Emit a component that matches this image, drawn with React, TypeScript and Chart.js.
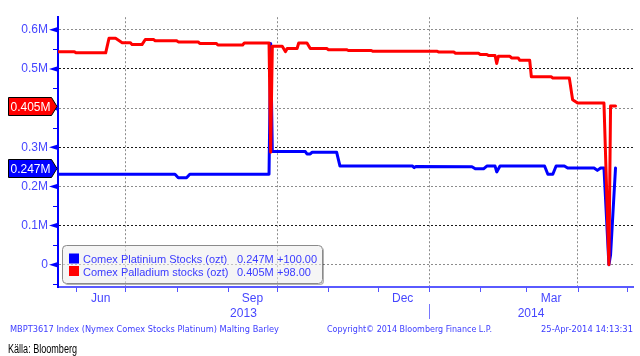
import React, { useEffect, useRef } from 'react';
import { Chart, registerables } from 'chart.js';
Chart.register(...registerables);

// ---------- data (values in millions of troy ounces) ----------
const platinumDates = [
  '2013-05-21', '2013-07-31', '2013-08-02', '2013-08-07', '2013-08-09', '2013-09-26', '2013-09-27',
  '2013-09-28', '2013-10-18', '2013-10-19', '2013-10-21', '2013-10-22', '2013-11-06', '2013-11-08',
  '2013-12-22', '2013-12-23', '2013-12-24', '2014-01-27', '2014-01-29', '2014-02-03', '2014-02-05',
  '2014-02-10', '2014-02-11', '2014-02-13', '2014-03-12', '2014-03-14', '2014-03-17', '2014-03-19',
  '2014-03-24', '2014-03-26', '2014-04-11', '2014-04-13', '2014-04-15', '2014-04-17', '2014-04-20',
  '2014-04-21', '2014-04-24',
];
const platinumValues = [
  0.231, 0.231, 0.222, 0.222, 0.231, 0.231, 0.565,
  0.289, 0.289, 0.283, 0.283, 0.287, 0.287, 0.252,
  0.252, 0.248, 0.251, 0.250, 0.245, 0.245, 0.252,
  0.252, 0.237, 0.252, 0.252, 0.231, 0.231, 0.252,
  0.252, 0.247, 0.247, 0.241, 0.247, 0.247, 0.0,
  0.025, 0.247,
];
const palladiumDates = [
  '2013-05-21', '2013-05-31', '2013-06-01', '2013-06-19', '2013-06-21', '2013-06-25', '2013-06-29',
  '2013-07-04', '2013-07-05', '2013-07-11', '2013-07-13', '2013-07-18', '2013-07-19', '2013-08-01',
  '2013-08-02', '2013-08-14', '2013-08-15', '2013-08-25', '2013-08-26', '2013-09-10', '2013-09-11',
  '2013-09-26', '2013-09-27', '2013-09-28', '2013-10-04', '2013-10-06', '2013-10-07', '2013-10-13',
  '2013-10-14', '2013-10-19', '2013-10-21', '2013-10-31', '2013-11-01', '2013-11-12', '2013-11-13',
  '2013-11-27', '2013-11-28', '2014-01-06', '2014-01-07', '2014-01-16', '2014-01-17', '2014-01-31',
  '2014-02-01', '2014-02-05', '2014-02-06', '2014-02-10', '2014-02-11', '2014-02-12', '2014-02-19',
  '2014-02-20', '2014-02-24', '2014-02-25', '2014-03-03', '2014-03-04', '2014-03-16', '2014-03-17',
  '2014-03-27', '2014-03-29', '2014-04-01', '2014-04-17', '2014-04-20', '2014-04-21', '2014-04-24',
];
const palladiumValues = [
  0.544, 0.544, 0.541, 0.541, 0.578, 0.578, 0.567,
  0.567, 0.562, 0.562, 0.575, 0.575, 0.572, 0.572,
  0.569, 0.569, 0.565, 0.565, 0.561, 0.561, 0.566,
  0.566, 0.287, 0.558, 0.558, 0.544, 0.552, 0.552,
  0.566, 0.566, 0.552, 0.552, 0.549, 0.549, 0.547,
  0.547, 0.545, 0.545, 0.543, 0.543, 0.540, 0.540,
  0.537, 0.537, 0.534, 0.534, 0.514, 0.532, 0.532,
  0.528, 0.528, 0.522, 0.522, 0.480, 0.480, 0.477,
  0.477, 0.421, 0.413, 0.413, 0.0, 0.405, 0.405,
];

const seriesNames = ['Comex Platinium Stocks (ozt)', 'Comex Palladium stocks (ozt)'];
const seriesChanges = ['+100.00', '+98.00'];
const seriesColors = ['#0000ff', '#ff0000'];

const yTickValues = [0, 0.1, 0.2, 0.3, 0.4, 0.5, 0.6];
const yMinorValues = [-0.05, 0.05, 0.15, 0.25, 0.35, 0.45, 0.55];
const gridDates = ['2013-07-01', '2013-10-01', '2014-01-01', '2014-04-01'];
const monthTickDates = [
  '2013-06-01', '2013-07-01', '2013-08-01', '2013-09-01', '2013-10-01', '2013-11-01',
  '2013-12-01', '2014-01-01', '2014-02-01', '2014-03-01', '2014-04-01', '2014-05-01',
];
const monthLabels = ['Jun', 'Sep', 'Dec', 'Mar'];
const monthLabelDates = ['2013-06-16', '2013-09-16', '2013-12-16', '2014-03-16'];
const yearLabels = ['2013', '2014'];
const yearBoundary = '2014-01-01';
const axisStart = '2013-05-21';
const axisEnd = '2014-05-04';

const footerLeft = 'MBPT3617 Index (Nymex Comex Stocks Platinum) Malting Barley';
const footerMid = 'Copyright\u00A9 2014 Bloomberg Finance L.P.';
const footerRight = '25-Apr-2014 14:13:31';
const sourceText = 'K\u00E4lla: Bloomberg';

// ---------- helpers ----------
const EPOCH = Date.UTC(2013, 5, 1);
function dayNum(s: string): number {
  const [y, m, d] = s.split('-').map(Number);
  return (Date.UTC(y, m - 1, d) - EPOCH) / 86400000;
}
function fmtM(v: number): string {
  return v === 0 ? '0' : `${+v.toFixed(3)}M`;
}
function roundRect(ctx: CanvasRenderingContext2D, x: number, y: number, w: number, h: number, r: number) {
  ctx.moveTo(x + r, y);
  ctx.lineTo(x + w - r, y);
  ctx.arcTo(x + w, y, x + w, y + r, r);
  ctx.lineTo(x + w, y + h - r);
  ctx.arcTo(x + w, y + h, x + w - r, y + h, r);
  ctx.lineTo(x + r, y + h);
  ctx.arcTo(x, y + h, x, y + h - r, r);
  ctx.lineTo(x, y + r);
  ctx.arcTo(x, y, x + r, y, r);
  ctx.closePath();
}

const AXIS_BLUE = '#4646ff';
const FONT = '"Liberation Sans", Arial, sans-serif';

const lastValues = [platinumValues[platinumValues.length - 1], palladiumValues[palladiumValues.length - 1]];

const decorPlugin = {
  id: 'bbgDecor',
  beforeDatasetsDraw(chart: any) {
    const { ctx, chartArea: a } = chart;
    const bx = a.left + 4;
    const by = a.bottom - 42;
    const bw = 260;
    const bh = 38;
    ctx.save();
    // shadow only outside the box
    ctx.save();
    ctx.beginPath();
    ctx.rect(0, 0, chart.width, chart.height);
    roundRect(ctx, bx, by, bw + 1, bh + 1, 4);
    ctx.clip('evenodd');
    ctx.beginPath();
    roundRect(ctx, bx + 2, by + 2, bw, bh, 4);
    ctx.fillStyle = 'rgba(0,0,0,0.3)';
    ctx.fill();
    ctx.restore();
    ctx.beginPath();
    roundRect(ctx, bx, by, bw, bh, 4);
    ctx.fillStyle = 'rgba(236,236,236,0.55)';
    ctx.fill();
    ctx.beginPath();
    roundRect(ctx, bx + 0.5, by + 0.5, bw, bh, 4);
    ctx.strokeStyle = '#8a8a8a';
    ctx.lineWidth = 1;
    ctx.stroke();
    ctx.font = `11px ${FONT}`;
    ctx.textBaseline = 'alphabetic';
    ctx.textAlign = 'left';
    for (let i = 0; i < 2; i++) {
      const base = by + 18 + i * 12.5;
      ctx.fillStyle = seriesColors[i];
      ctx.fillRect(bx + 7, base - 9.5, 10, 10);
      ctx.fillStyle = '#3a3aff';
      ctx.fillText(seriesNames[i], bx + 21, base);
      ctx.fillText(fmtM(lastValues[i]), bx + 175, base);
      ctx.fillText(seriesChanges[i], bx + 215, base);
    }
    ctx.restore();
  },
  afterDraw(chart: any) {
    const { ctx, chartArea: a } = chart;
    const xs = chart.scales.x;
    const ys = chart.scales.y;
    ctx.save();
    // y minor ticks
    ctx.strokeStyle = '#0000ff';
    ctx.lineWidth = 1;
    for (const v of yMinorValues) {
      const y = Math.round(ys.getPixelForValue(v)) + 0.5;
      ctx.beginPath();
      ctx.moveTo(a.left - 5, y);
      ctx.lineTo(a.left, y);
      ctx.stroke();
    }
    // y major markers
    ctx.fillStyle = '#0000ff';
    for (const v of yTickValues) {
      const y = ys.getPixelForValue(v);
      ctx.beginPath();
      ctx.moveTo(a.left - 9, y);
      ctx.lineTo(a.left - 1, y - 2.5);
      ctx.lineTo(a.left - 1, y + 2.5);
      ctx.closePath();
      ctx.fill();
    }
    // x month ticks
    ctx.strokeStyle = '#5555ff';
    for (const d of monthTickDates) {
      const x = Math.round(xs.getPixelForValue(dayNum(d))) + 0.5;
      ctx.beginPath();
      ctx.moveTo(x, a.bottom);
      ctx.lineTo(x, a.bottom + 5);
      ctx.stroke();
    }
    // month labels
    ctx.fillStyle = AXIS_BLUE;
    ctx.font = `12px ${FONT}`;
    ctx.textAlign = 'center';
    ctx.textBaseline = 'alphabetic';
    monthLabels.forEach((m, i) => {
      ctx.fillText(m, xs.getPixelForValue(dayNum(monthLabelDates[i])), a.bottom + 14.5);
    });
    // year labels
    const xb = xs.getPixelForValue(dayNum(yearBoundary));
    const xa = xs.getPixelForValue(dayNum(axisStart));
    const xe = xs.getPixelForValue(dayNum(axisEnd) + 0.6);
    ctx.fillText(yearLabels[0], (xa + xb) / 2, a.bottom + 29.5);
    ctx.fillText(yearLabels[1], (xb + xe) / 2, a.bottom + 29.5);
    ctx.strokeStyle = '#7777ff';
    ctx.beginPath();
    ctx.moveTo(Math.round(xb) + 0.5, a.bottom + 17);
    ctx.lineTo(Math.round(xb) + 0.5, a.bottom + 32);
    ctx.stroke();
    // footers
    ctx.font = `9px "DejaVu Sans", sans-serif`;
    ctx.fillStyle = '#3c3cff';
    ctx.textAlign = 'left';
    ctx.fillText(footerLeft, 10, 331.5, 269);
    ctx.fillText(footerMid, 327, 331.5, 165);
    ctx.textAlign = 'right';
    ctx.fillText(footerRight, 633, 331.5, 92);
    ctx.textAlign = 'left';
    ctx.fillStyle = '#000000';
    ctx.font = `12px "Liberation Sans Narrow", "Liberation Sans", sans-serif`;
    ctx.fillText(sourceText, 8, 352.5, 69);
    // value tags
    ctx.font = `12px ${FONT}`;
    ctx.textAlign = 'center';
    for (let i = 0; i < 2; i++) {
      const y = Math.round(ys.getPixelForValue(lastValues[i])) + 0.5;
      ctx.beginPath();
      ctx.moveTo(8.5, y - 9);
      ctx.lineTo(51.5, y - 9);
      ctx.lineTo(57, y);
      ctx.lineTo(51.5, y + 9);
      ctx.lineTo(8.5, y + 9);
      ctx.closePath();
      ctx.fillStyle = seriesColors[i];
      ctx.fill();
      ctx.strokeStyle = '#000000';
      ctx.lineWidth = 1;
      ctx.stroke();
      ctx.fillStyle = '#ffffff';
      ctx.fillText(fmtM(lastValues[i]), 30.5, y + 4.5);
    }
    ctx.restore();
  },
};

export default function App() {
  const ref = useRef<HTMLCanvasElement | null>(null);
  useEffect(() => {
    if (!ref.current) return;
    const chart = new Chart(ref.current, {
      type: 'line',
      data: {
        datasets: [
          {
            label: seriesNames[0],
            data: platinumDates.map((d, i) => ({ x: dayNum(d), y: platinumValues[i] })),
            borderColor: seriesColors[0],
            borderWidth: 3,
            pointRadius: 0,
            tension: 0,
            borderJoinStyle: 'round',
            borderCapStyle: 'round',
            order: 1,
          },
          {
            label: seriesNames[1],
            data: palladiumDates.map((d, i) => ({ x: dayNum(d), y: palladiumValues[i] })),
            borderColor: seriesColors[1],
            borderWidth: 3,
            pointRadius: 0,
            tension: 0,
            borderJoinStyle: 'round',
            borderCapStyle: 'round',
            order: 0,
          },
        ],
      },
      options: {
        animation: false,
        responsive: false,
        maintainAspectRatio: false,
        layout: { padding: { top: 3, right: 7, left: 0, bottom: 0 } },
        plugins: { legend: { display: false }, tooltip: { enabled: false } },
        scales: {
          x: {
            type: 'linear',
            min: dayNum(axisStart) + 0.1,
            max: dayNum(axisEnd) + 0.6,
            afterBuildTicks: (s: any) => {
              s.ticks = gridDates.map((d) => ({ value: dayNum(d) }));
            },
            afterFit: (s: any) => {
              s.height = 69;
            },
            ticks: { display: false },
            grid: { color: '#8c8c8c', lineWidth: 1, drawTicks: false },
            border: { display: true, color: '#5a5aff', width: 2, dash: [2, 2] },
          },
          y: {
            type: 'linear',
            min: -0.0568,
            max: 0.632,
            afterBuildTicks: (s: any) => {
              s.ticks = yTickValues.map((v) => ({ value: v }));
            },
            afterFit: (s: any) => {
              s.width = 58;
            },
            ticks: {
              color: AXIS_BLUE,
              font: { family: FONT, size: 12 },
              padding: 10,
              autoSkip: false,
              callback: (v: any) => (Number(v) === 0 ? '0' : `${Number(v).toFixed(1)}M`),
            },
            grid: {
              drawTicks: false,
              lineWidth: 1,
              color: (c: any) =>
                c.tick && Math.round(c.tick.value * 10) % 2 === 0 ? '#8c8c8c' : '#1a1a1a',
            },
            border: { display: true, color: '#0000ff', width: 2, dash: [2, 2] },
          },
        },
      },
      plugins: [decorPlugin],
    } as any);
    return () => chart.destroy();
  }, []);
  return (
    <div style={{ position: 'absolute', left: 0, top: 0, width: 640, height: 356, background: '#ffffff' }}>
      <canvas ref={ref} width={640} height={356} />
    </div>
  );
}
